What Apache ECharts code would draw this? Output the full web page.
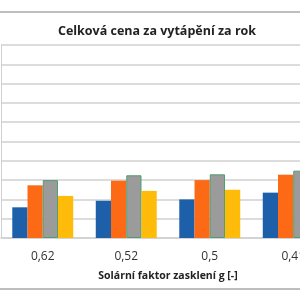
<!DOCTYPE html>
<html><head><meta charset="utf-8">
<script src="https://cdn.jsdelivr.net/npm/echarts@6/dist/echarts.min.js"></script>
<style>html,body{margin:0;padding:0;background:#fff}#c{width:300px;height:300px}</style>
</head><body><div id="c"></div>
<script>
var categories = ['0,62', '0,52', '0,5', '0,41'];
var seriesBlue = [1.59, 1.93, 2.0, 2.35];
var seriesOrange = [2.73, 2.97, 3.0, 3.28];
var seriesGray = [3.0, 3.25, 3.3, 3.49];
var seriesYellow = [2.18, 2.44, 2.5, 2.75];
var titleText = 'Celková cena za vytápění za rok';
var xAxisName = 'Solární faktor zasklení g [-]';

var chart = echarts.init(document.getElementById('c'), null, {renderer: 'canvas'});
var font = 'Open Sans';
function bar(data, color, border) {
  return {
    type: 'bar', data: data, barGap: '0%', barCategoryGap: '27%',
    itemStyle: {color: color, borderColor: border || color, borderWidth: border ? 1 : 0},
    animation: false
  };
}
chart.setOption({
  animation: false,
  title: {text: titleText, left: 152, textAlign: 'center', top: 20,
    textStyle: {fontFamily: font, fontSize: 12.5, fontWeight: 'bold', color: '#222'}},
  graphic: [
    {type: 'line', shape: {x1: 0, y1: 12, x2: 300, y2: 12}, style: {stroke: '#a8a8a8', lineWidth: 1.5}},
    {type: 'line', shape: {x1: 0, y1: 289, x2: 300, y2: 289}, style: {stroke: '#a8a8a8', lineWidth: 1.5}}
  ],
  grid: {left: 1, width: 334, top: 45, bottom: 62, outerBoundsMode: 'none', containLabel: false},
  xAxis: {
    type: 'category', data: categories,
    axisLine: {lineStyle: {color: '#d0d0d0', width: 1.5}},
    axisTick: {show: false},
    axisLabel: {fontFamily: font, fontSize: 12, color: '#333', margin: 13},
    name: xAxisName, nameLocation: 'middle', nameGap: 33,
    nameTextStyle: {fontFamily: font, fontSize: 10.5, fontWeight: 'bold', color: '#222'}
  },
  yAxis: {
    type: 'value', min: 0, max: 10, interval: 1,
    axisLine: {show: true, lineStyle: {color: '#d0d0d0', width: 1}},
    axisLabel: {show: false}, axisTick: {show: false},
    splitLine: {lineStyle: {color: '#d0d0d0', width: 1.5}}
  },
  series: [
    bar(seriesBlue, '#1d5fa9'),
    bar(seriesOrange, '#fd6a16'),
    bar(seriesGray, '#9b9b9b', '#4f9e72'),
    bar(seriesYellow, '#ffbb0a')
  ]
});
</script></body></html>
